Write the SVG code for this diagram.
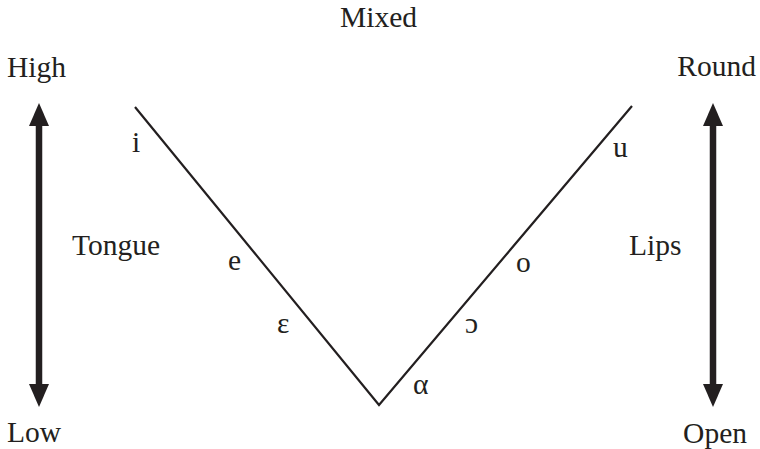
<svg xmlns="http://www.w3.org/2000/svg" width="760" height="449" viewBox="0 0 760 449">
<style>
text{font-family:"Liberation Serif","Times New Roman",serif;font-size:29.5px;fill:#231f20}
.v{stroke:#231f20;stroke-width:2.2;fill:none}
.a{stroke:#231f20;stroke-width:6.5;fill:none}
.h{fill:#231f20}
</style>
<rect width="760" height="449" fill="#fff"/>
<g id="connectors">
<polyline class="v" points="135,107 379,405 632,106"/>
</g>
<g id="tongue-arrow">
<line class="a" x1="39" y1="124" x2="39" y2="386"/>
<polygon class="h" points="39,103 29,126 49,126"/>
<polygon class="h" points="39,407 29,384 49,384"/>
</g>
<g id="lips-arrow">
<line class="a" x1="713" y1="124" x2="713" y2="386"/>
<polygon class="h" points="713,103 703,126 723,126"/>
<polygon class="h" points="713,407 703,384 723,384"/>
</g>
<g id="labels">
<text x="378.5" y="27" text-anchor="middle">Mixed</text>
<text x="7" y="77">High</text>
<text x="756" y="76" text-anchor="end">Round</text>
<text x="7" y="442">Low</text>
<text x="747" y="443" text-anchor="end">Open</text>
<text x="72" y="255">Tongue</text>
<text x="629" y="255">Lips</text>
</g>
<g id="vowels">
<text x="132" y="152">i</text>
<text x="228" y="270">e</text>
<text x="277" y="333">ε</text>
<text x="413" y="394">α</text>
<text x="465" y="333">ɔ</text>
<text x="516" y="272">o</text>
<text x="613" y="157">u</text>
</g>
</svg>
